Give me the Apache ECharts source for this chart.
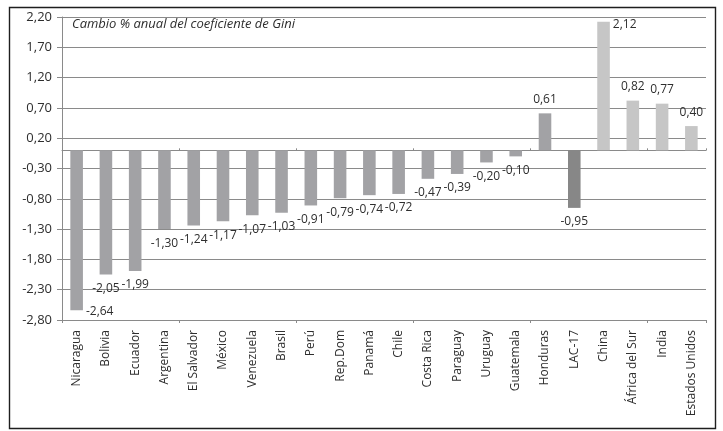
<!DOCTYPE html>
<html><head><meta charset="utf-8">
<script src="https://cdn.jsdelivr.net/npm/echarts@6/dist/echarts.min.js"></script>
<style>html,body{margin:0;padding:0;background:#fff}#c{width:723px;height:431px}</style>
</head><body><div id="c"></div>
<script>
const categories = ['Nicaragua','Bolivia','Ecuador','Argentina','El Salvador','México','Venezuela','Brasil','Perú','Rep.Dom','Panamá','Chile','Costa Rica','Paraguay','Uruguay','Guatemala','Honduras','LAC-17','China','África del Sur','India','Estados Unidos'];
const giniChange = [-2.64,-2.05,-1.99,-1.30,-1.24,-1.17,-1.07,-1.03,-0.91,-0.79,-0.74,-0.72,-0.47,-0.39,-0.20,-0.10,0.61,-0.95,2.12,0.82,0.77,0.40];
const regionalAggregate = ['LAC-17'];
const extraRegional = ['China','África del Sur','India','Estados Unidos'];
const yMin = -2.8, yMax = 2.2, yStep = 0.5;
const chartTitle = 'Cambio % anual del coeficiente de Gini';

const FONT = '"Open Sans", "Noto Sans", sans-serif';
const TXT = '#2e2e2e';
const GRIDC = '#8a8a8a';
const fmt = v => (Math.round(v * 100) / 100).toFixed(2).replace('.', ',');

function barColor(name) {
  if (regionalAggregate.includes(name)) return '#878787';
  if (extraRegional.includes(name)) return '#c6c6c6';
  return '#a2a2a5';
}

const seriesData = categories.map((name, i) => {
  const v = giniChange[i];
  const item = { value: v, itemStyle: { color: barColor(name) } };
  // label would leave the plot area -> put it beside the bar end
  if (v < 0 && v - 0.3 < yMin) {
    item.label = { position: ['100%', '100%'], align: 'left', verticalAlign: 'middle', offset: [3, 1] };
  } else if (v > 0 && v + 0.3 > yMax) {
    item.label = { position: ['100%', 0], align: 'left', verticalAlign: 'middle', offset: [3, 3] };
  } else {
    item.label = { position: v < 0 ? 'bottom' : 'top' };
  }
  return item;
});

const chart = echarts.init(document.getElementById('c'));
chart.setOption({
  animation: false,
  backgroundColor: '#fff',
  textStyle: { fontFamily: FONT },
  grid: { left: 62, right: 17, top: 17, bottom: 111, containLabel: false, outerBoundsMode: 'none' },
  graphic: [
    { type: 'rect', left: 7, top: 5, shape: { width: 706, height: 421 }, style: { fill: 'none', stroke: '#1e1e1e', lineWidth: 1.4 }, z: 100 },
    { type: 'text', left: 72, top: 18, style: { text: chartTitle, font: 'italic 13px ' + FONT, fill: TXT }, z: 100 }
  ],
  xAxis: [
    {
      type: 'category', data: categories, position: 'bottom',
      axisLine: { show: false, onZero: false }, axisTick: { show: false },
      axisLabel: { rotate: 90, margin: 10, fontSize: 12, color: TXT, fontFamily: FONT, interval: 0 }
    },
    {
      type: 'category', data: categories, position: 'top',
      axisLine: { show: true, onZero: true, lineStyle: { color: GRIDC, width: 1 } },
      axisTick: { show: true, length: 2, lineStyle: { color: GRIDC } },
      axisLabel: { show: false }
    },
    {
      type: 'category', data: categories, position: 'bottom',
      axisLine: { show: true, onZero: true, lineStyle: { color: GRIDC, width: 1 } },
      axisTick: { show: true, length: 3, lineStyle: { color: GRIDC } },
      axisLabel: { show: false }
    }
  ],
  yAxis: {
    type: 'value', min: yMin, max: yMax, interval: yStep,
    axisLine: { show: true, lineStyle: { color: GRIDC } },
    axisTick: { show: true, length: 5, lineStyle: { color: GRIDC } },
    splitLine: { show: true, lineStyle: { color: GRIDC, width: 1 } },
    axisLabel: { fontSize: 13, color: TXT, margin: 10, fontFamily: FONT, formatter: v => fmt(v) }
  },
  series: [{
    type: 'bar', xAxisIndex: 0, data: seriesData, barWidth: '43%',
    label: { show: true, distance: 8, fontSize: 12, color: TXT, fontFamily: FONT, formatter: p => fmt(p.value) }
  }]
});
</script></body></html>
